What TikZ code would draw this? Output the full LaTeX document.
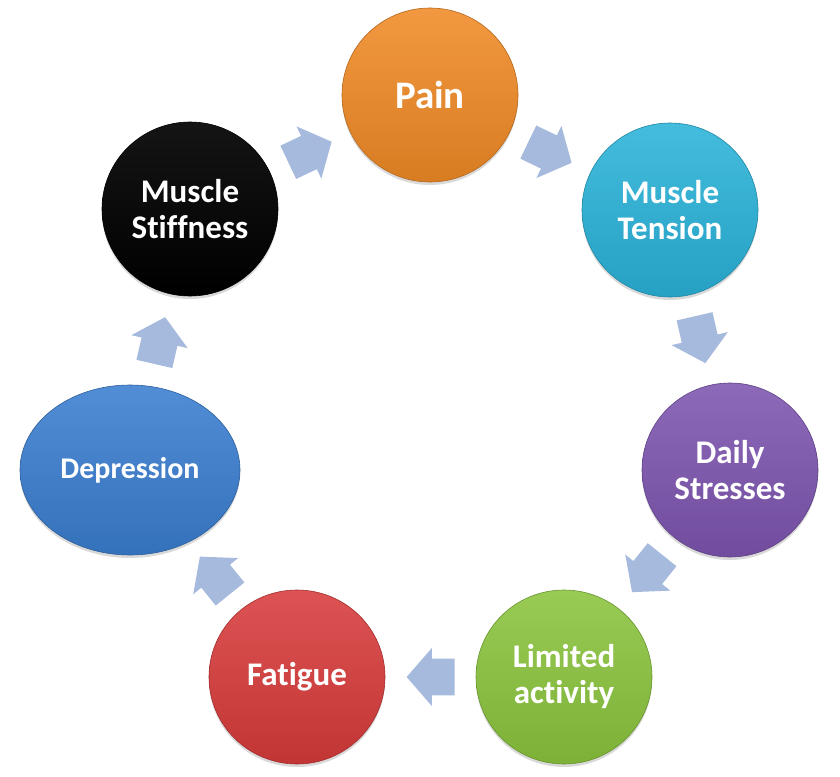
\documentclass[tikz,border=0pt]{standalone}
\usepackage{fontspec}
\setmainfont[Ligatures=CommonOff]{Carlito}
\usetikzlibrary{shapes.geometric,shapes.arrows,shadows}

\definecolor{painorange}{HTML}{F08A26}
\definecolor{tensioncyan}{HTML}{2AB3D9}
\definecolor{stresspurple}{HTML}{7E55B0}
\definecolor{limitgreen}{HTML}{8BC43D}
\definecolor{fatiguered}{HTML}{D83B3B}
\definecolor{depressblue}{HTML}{3A7ED0}
\definecolor{flowblue}{HTML}{A6BADD}

\begin{document}
\begin{tikzpicture}[x=0.5pt,y=-0.5pt,
	ball/.style={ellipse, minimum width=88pt, minimum height=87pt, inner sep=0pt,
		align=center, text=white, font=\fontsize{16.5}{18}\selectfont\bfseries,
		top color=#1!88!white, bottom color=#1!90!black, draw=#1!75!black, line width=0.3pt,
		drop shadow={opacity=0.3, shadow xshift=0pt, shadow yshift=-1.5pt}},
	flow/.style={single arrow, fill=flowblue, draw=none, inner xsep=0pt, inner ysep=9pt,
		minimum height=24pt, single arrow head extend=5.25pt,
		single arrow tip angle=98, sloped, allow upside down, pos=0.41}]
	\useasboundingbox (0,0) rectangle (840,776);

	\node[ball=painorange, font=\fontsize{19.5}{21}\selectfont\bfseries] (pain) at (430,95) {Pain};
	\node[ball=tensioncyan] (tension) at (670,210) {Muscle\\Tension};
	\node[ball=stresspurple] (stress) at (730,470) {Daily\\Stresses};
	\node[ball=limitgreen] (limited) at (564,677) {Limited\\activity};
	\node[ball=fatiguered] (fatigue) at (297,677) {Fatigue};
	\node[ball=depressblue, minimum width=110pt, minimum height=85pt,
		font=\fontsize{15}{17}\selectfont\bfseries] (depress) at (130,470) {Depression};
	\node[ball=black, top color=black!92, bottom color=black] (stiff) at (190,209) {Muscle\\Stiffness};

	% block arrows round the cycle
	\path (stiff) -- node[flow] {} (pain);
	\path (pain) -- node[flow] {} (tension);
	\path (tension) -- node[flow] {} (stress);
	\path (stress) -- node[flow] {} (limited);
	\path (limited) -- node[flow] {} (fatigue);
	\path (fatigue) -- node[flow] {} (depress);
	\path (depress) -- node[flow] {} (stiff);
\end{tikzpicture}
\end{document}
